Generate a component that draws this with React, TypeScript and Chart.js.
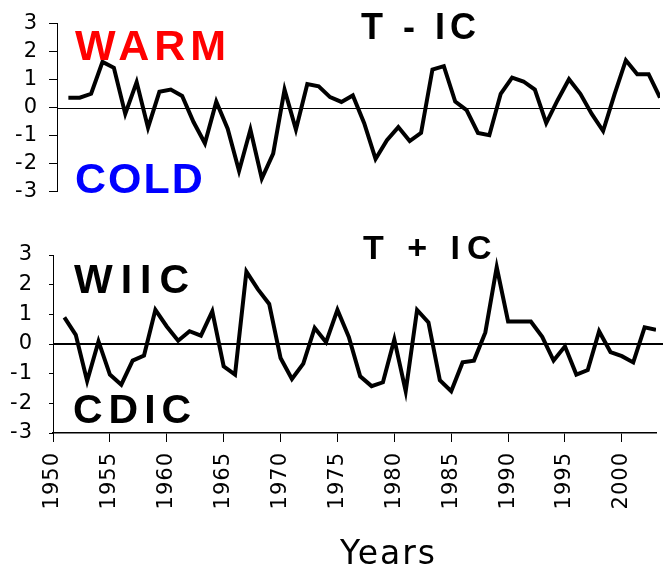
import React, { useEffect, useRef } from "react";
import { Chart, registerables } from "chart.js";

Chart.register(...registerables);

const years = [
  1951, 1952, 1953, 1954, 1955, 1956, 1957, 1958, 1959, 1960,
  1961, 1962, 1963, 1964, 1965, 1966, 1967, 1968, 1969, 1970,
  1971, 1972, 1973, 1974, 1975, 1976, 1977, 1978, 1979, 1980,
  1981, 1982, 1983, 1984, 1985, 1986, 1987, 1988, 1989, 1990,
  1991, 1992, 1993, 1994, 1995, 1996, 1997, 1998, 1999, 2000,
  2001, 2002, 2003,
];

const tMinusIC = [
  0.35, 0.35, 0.49, 1.63, 1.42, -0.23, 0.91, -0.72, 0.56, 0.64,
  0.41, -0.52, -1.28, 0.21, -0.76, -2.27, -0.79, -2.54, -1.65, 0.64,
  -0.79, 0.84, 0.76, 0.37, 0.2, 0.43, -0.56, -1.84, -1.17, -0.7,
  -1.2, -0.91, 1.36, 1.48, 0.21, -0.09, -0.91, -0.99, 0.49, 1.07,
  0.93, 0.64, -0.56, 0.26, 1.01, 0.49, -0.23, -0.84, 0.47, 1.69,
  1.19, 1.19, 0.35,
];

const tPlusIC = [
  0.9, 0.31, -1.25, 0.09, -1.03, -1.37, -0.56, -0.39, 1.15, 0.59,
  0.11, 0.43, 0.28, 1.1, -0.75, -1.03, 2.44, 1.85, 1.35, -0.47,
  -1.18, -0.66, 0.54, 0.06, 1.15, 0.24, -1.09, -1.42, -1.29, 0.15,
  -1.59, 1.15, 0.73, -1.22, -1.59, -0.62, -0.56, 0.39, 2.59, 0.76,
  0.76, 0.76, 0.24, -0.56, -0.08, -1.03, -0.88, 0.43, -0.27, -0.41,
  -0.62, 0.56, 0.48,
];

const yTicks = [-3, -2, -1, 0, 1, 2, 3];
const xTickYears = [1950, 1955, 1960, 1965, 1970, 1975, 1980, 1985, 1990, 1995, 2000];

type TextItem = {
  text: string;
  x: number;
  y: number;
  font: string;
  color: string;
  spacing: number;
};

const spacingPlugin = (id: string, px: number) => ({
  id,
  beforeDraw(chart: any) {
    (chart.ctx as any).letterSpacing = `${px}px`;
  },
  afterDraw(chart: any) {
    (chart.ctx as any).letterSpacing = "0px";
  },
});

const textPlugin = (id: string, items: TextItem[]) => ({
  id,
  afterDraw(chart: any) {
    const ctx = chart.ctx as CanvasRenderingContext2D;
    ctx.save();
    for (const it of items) {
      ctx.font = it.font;
      ctx.fillStyle = it.color;
      ctx.textAlign = "left";
      ctx.textBaseline = "alphabetic";
      (ctx as any).letterSpacing = `${it.spacing}px`;
      ctx.fillText(it.text, it.x, it.y);
    }
    (ctx as any).letterSpacing = "0px";
    ctx.restore();
  },
});

const zeroLinePlugin = (id: string, width: number, extend: number) => ({
  id,
  beforeDatasetsDraw(chart: any) {
    const { ctx, chartArea, scales } = chart;
    const y = Math.round(scales.y.getPixelForValue(0)) + (width % 2 ? 0.5 : 0);
    ctx.save();
    ctx.strokeStyle = "#000";
    ctx.lineWidth = width;
    ctx.beginPath();
    ctx.moveTo(chartArea.left, y);
    ctx.lineTo(chartArea.right + extend, y);
    ctx.stroke();
    ctx.restore();
  },
});

const tickFont = { family: "'DejaVu Sans', sans-serif", size: 21 };

function makeConfig(
  values: number[],
  opts: {
    padding: any;
    yWidth: number;
    yTickLen: number;
    yPad: number;
    showX: boolean;
    plugins: any[];
  }
): any {
  return {
    type: "line",
    data: {
      datasets: [
        {
          data: years.map((yr, i) => ({ x: yr, y: values[i] })),
          borderColor: "#000",
          borderWidth: 4,
          pointRadius: 0,
          tension: 0,
          fill: false,
          borderJoinStyle: "miter",
        },
      ],
    },
    options: {
      responsive: false,
      animation: false,
      layout: { padding: opts.padding },
      plugins: { legend: { display: false }, tooltip: { enabled: false } },
      scales: {
        x: opts.showX
          ? {
              type: "linear",
              min: 1950,
              max: 2003,
              afterBuildTicks: (s: any) => {
                s.ticks = xTickYears.map((v) => ({ value: v }));
              },
              afterFit: (s: any) => {
                s.height = 147;
              },
              ticks: {
                autoSkip: false,
                minRotation: 90,
                maxRotation: 90,
                padding: 10,
                color: "#000",
                font: tickFont,
                callback: (v: any) => String(v),
              },
              grid: {
                drawOnChartArea: false,
                drawTicks: true,
                tickLength: 9,
                tickColor: "#000",
                tickWidth: 1,
              },
              border: { display: true, color: "#000", width: 1.5 },
            }
          : { type: "linear", min: 1950, max: 2003, display: false },
        y: {
          min: -3,
          max: 3,
          afterBuildTicks: (s: any) => {
            s.ticks = yTicks.map((v) => ({ value: v }));
          },
          afterFit: (s: any) => {
            s.width = opts.yWidth;
          },
          ticks: {
            autoSkip: false,
            padding: opts.yPad,
            color: "#000",
            font: tickFont,
            callback: (v: any) => String(v),
          },
          grid: {
            drawOnChartArea: false,
            drawTicks: true,
            tickLength: opts.yTickLen,
            tickColor: "#000",
            tickWidth: 1,
          },
          border: { display: true, color: "#000", width: 1 },
        },
      },
    },
    plugins: opts.plugins,
  };
}

const boldFamily = "'Liberation Sans', Arial, sans-serif";

export default function App() {
  const topRef = useRef<HTMLCanvasElement>(null);
  const botRef = useRef<HTMLCanvasElement>(null);

  useEffect(() => {
    const topChart = new Chart(
      topRef.current!,
      makeConfig(tMinusIC, {
        padding: { top: 23, right: 10, bottom: 20, left: 0 },
        yWidth: 57,
        yTickLen: 8,
        yPad: 11,
        showX: false,
        plugins: [
          spacingPlugin("spTop", 1),
          zeroLinePlugin("zeroTop", 1, 0),
          textPlugin("textTop", [
            { text: "WARM", x: 75, y: 60, font: `bold 43px ${boldFamily}`, color: "#ff0000", spacing: 5 },
            { text: "COLD", x: 75, y: 193, font: `bold 43px ${boldFamily}`, color: "#0000ff", spacing: 2 },
            { text: "T - IC", x: 361, y: 39, font: `bold 36px ${boldFamily}`, color: "#000", spacing: 5 },
          ]),
        ],
      })
    );
    const botChart = new Chart(
      botRef.current!,
      makeConfig(tPlusIC, {
        padding: { top: 40, right: 14, bottom: 0, left: 0 },
        yWidth: 53,
        yTickLen: 4,
        yPad: 16,
        showX: true,
        plugins: [
          spacingPlugin("spBot", 1),
          zeroLinePlugin("zeroBot", 2, 7),
          textPlugin("textBot", [
            { text: "WIIC", x: 74, y: 78, font: `bold 41px ${boldFamily}`, color: "#000", spacing: 8 },
            { text: "CDIC", x: 73, y: 208, font: `bold 41px ${boldFamily}`, color: "#000", spacing: 6 },
            { text: "T + IC", x: 363, y: 44, font: `bold 34px ${boldFamily}`, color: "#000", spacing: 7 },
            { text: "Years", x: 340, y: 349, font: `33px 'DejaVu Sans', sans-serif`, color: "#000", spacing: 2 },
          ]),
        ],
      })
    );
    return () => {
      topChart.destroy();
      botChart.destroy();
    };
  }, []);

  return (
    <div style={{ position: "fixed", left: 0, top: 0, width: 670, height: 580, background: "#fff" }}>
      <canvas ref={topRef} width={670} height={215} style={{ position: "absolute", left: 0, top: 0 }} />
      <canvas ref={botRef} width={670} height={365} style={{ position: "absolute", left: 0, top: 215 }} />
    </div>
  );
}
